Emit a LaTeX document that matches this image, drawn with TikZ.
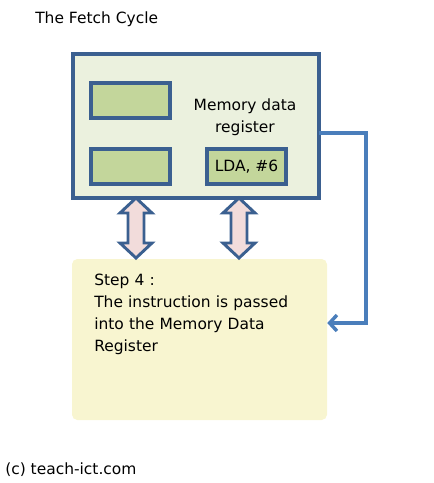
\documentclass[tikz,border=0pt]{standalone}
\usepackage{fontspec}
\setmainfont{DejaVu Sans}
\usetikzlibrary{arrows.meta}

\definecolor{boxline}{HTML}{3B6090}
\definecolor{linkblue}{HTML}{4A7EBB}
\definecolor{outerfill}{HTML}{EBF1DE}
\definecolor{regfill}{HTML}{C3D69B}
\definecolor{busfill}{HTML}{F2DCDB}
\definecolor{notefill}{HTML}{F8F5D0}

\begin{document}
\begin{tikzpicture}
    [ x=0.75pt, y=-0.75pt,
      outer/.style={draw=boxline, fill=outerfill, line width=2.6pt},
      reg/.style={draw=boxline, fill=regfill, line width=2.6pt, minimum width=79*0.75pt, minimum height=35*0.75pt, inner sep=0},
      note/.style={fill=notefill, rounded corners=4pt, minimum width=255*0.75pt, minimum height=161*0.75pt, inner sep=0},
      bus/.style={draw=boxline, fill=busfill, line width=2.2pt, line join=miter},
      link/.style={draw=linkblue, line width=2.6pt, -{Straight Barb[length=5.5pt, width=12pt]}},
      label/.style={font=\fontsize{11.6}{16.5}\selectfont, inner sep=0}]

  \useasboundingbox (0,0) rectangle (433,483);

%%%%%%%%%%%%%%%%%%%%%%%%%%%%%%%%%%%%%%%%%%%%%%%%%%%%%%%%%%%%%%%%%%%%%%%%%%%%%%%%
%title and copyright
	  \node[label, anchor=base west] (title) at (35,23) {The Fetch Cycle};
	  \node[label, anchor=base west] (copy) at (5,474) {(c) teach-ict.com};

%%%%%%%%%%%%%%%%%%%%%%%%%%%%%%%%%%%%%%%%%%%%%%%%%%%%%%%%%%%%%%%%%%%%%%%%%%%%%%%%
%processor box with registers
	  \draw[outer] (73,54) rectangle (319,198);
	  \node[reg] (regA) at (130.5,100.5) {};
	  \node[reg] (regB) at (130.5,166.5) {};
	  \node[reg, label] (mdr) at (246.5,166.5) {LDA, \#6};
	  \node[label, align=center] (mdrText) at (245,117) {Memory data\\register};
	  \coordinate (boxEast) at (319,133);

%%%%%%%%%%%%%%%%%%%%%%%%%%%%%%%%%%%%%%%%%%%%%%%%%%%%%%%%%%%%%%%%%%%%%%%%%%%%%%%%
%step note
	  \node[note] (step) at (199.5,339.5) {};
	  \node[label, anchor=north west, text width=220*0.75pt, align=left] (stepText) at (94,274)
	      {Step 4 :\\The instruction is passed\\into the Memory Data\\Register};

%%%%%%%%%%%%%%%%%%%%%%%%%%%%%%%%%%%%%%%%%%%%%%%%%%%%%%%%%%%%%%%%%%%%%%%%%%%%%%%%
%data bus arrows
	  \foreach \xc in {136,239}
	  {
	    \draw[bus] (\xc,198) -- (\xc+16,213) -- (\xc+8,213) -- (\xc+8,243) -- (\xc+16,243)
	      -- (\xc,258) -- (\xc-16,243) -- (\xc-8,243) -- (\xc-8,213) -- (\xc-16,213) -- cycle;
	  }

%%%%%%%%%%%%%%%%%%%%%%%%%%%%%%%%%%%%%%%%%%%%%%%%%%%%%%%%%%%%%%%%%%%%%%%%%%%%%%%%
%return link into the note
	  \coordinate (turn) at (366,323);
	  \draw[link] (boxEast) -- (turn |- boxEast) -- (turn) -- (step.east |- turn);

\end{tikzpicture}
\end{document}
